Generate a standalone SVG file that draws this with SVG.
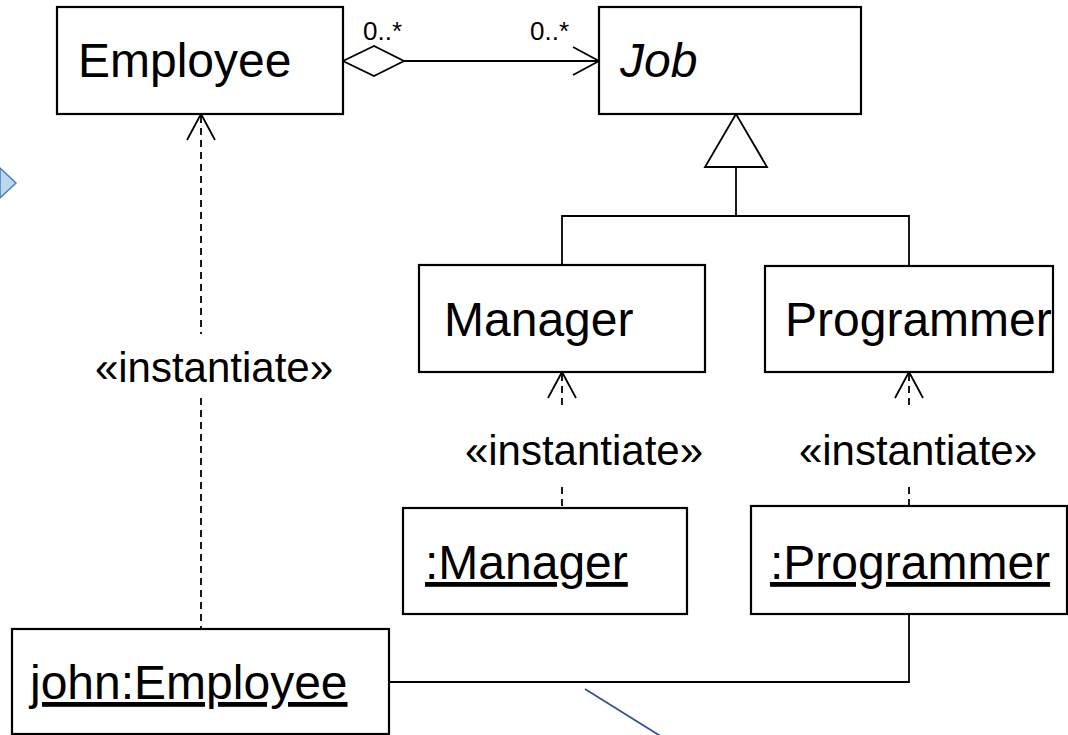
<svg xmlns="http://www.w3.org/2000/svg" width="1068" height="735" viewBox="0 0 1068 735">
<style>
.box{fill:#fff;stroke:#000;stroke-width:2.2}
.t{font-family:"Liberation Sans",Arial,sans-serif;font-size:48px;fill:#000}
.st{font-family:"Liberation Sans",Arial,sans-serif;font-size:42px;fill:#000}
.m{font-family:"Liberation Sans",Arial,sans-serif;font-size:26px;fill:#000}
.ln{fill:none;stroke:#000;stroke-width:1.8}
.dash{fill:none;stroke:#000;stroke-width:1.8;stroke-dasharray:7 5}
</style>
<rect width="1068" height="735" fill="#fff"/>
<g id="connectors">
  <polygon class="ln" points="343,61 374,46 404,61 374,76" fill="#fff"/>
  <line class="ln" x1="404" y1="61" x2="599" y2="61"/>
  <polyline class="ln" points="573,47 599,61 573,75"/>
  <text class="m" x="363" y="40">0..*</text>
  <text class="m" x="530" y="40">0..*</text>
  <polygon class="ln" points="736,114 705,167 767,167" fill="#fff"/>
  <line class="ln" x1="736" y1="167" x2="736" y2="216"/>
  <polyline class="ln" points="562,265 562,216 909,216 909,266"/>
  <line class="dash" x1="201" y1="116" x2="201" y2="334"/>
  <line class="dash" x1="201" y1="398" x2="201" y2="629"/>
  <polyline class="ln" points="187,140 201,114 215,140"/>
  <text class="st" x="214" y="382" text-anchor="middle">«instantiate»</text>
  <line class="dash" x1="562" y1="374" x2="562" y2="410"/>
  <line class="dash" x1="562" y1="487" x2="562" y2="508"/>
  <polyline class="ln" points="548,398 562,372 576,398"/>
  <text class="st" x="584" y="465" text-anchor="middle">«instantiate»</text>
  <line class="dash" x1="909" y1="374" x2="909" y2="410"/>
  <line class="dash" x1="909" y1="487" x2="909" y2="506"/>
  <polyline class="ln" points="895,398 909,372 923,398"/>
  <text class="st" x="918" y="465" text-anchor="middle">«instantiate»</text>
  <polyline class="ln" points="909,614 909,682 389,682"/>
</g>
<g id="Employee"><rect class="box" x="57" y="7" width="286" height="107"/><text class="t" x="78" y="77">Employee</text></g>
<g id="Job"><rect class="box" x="599" y="7" width="262" height="107"/><text class="t" x="620" y="77" font-style="italic">Job</text></g>
<g id="Manager"><rect class="box" x="419" y="265" width="286" height="107"/><text class="t" x="444" y="336">Manager</text></g>
<g id="Programmer"><rect class="box" x="765" y="266" width="288" height="106"/><text class="t" x="785" y="336">Programmer</text></g>
<g id="ManagerObj"><rect class="box" x="403" y="508" width="284" height="106"/><text class="t" x="425" y="579" text-decoration="underline">:Manager</text></g>
<g id="ProgrammerObj"><rect class="box" x="751" y="506" width="316" height="108"/><text class="t" x="770" y="579" text-decoration="underline">:Programmer</text></g>
<g id="john"><rect class="box" x="12" y="629" width="377" height="105"/><text class="t" x="30" y="699" text-decoration="underline">john:Employee</text></g>
<g id="decor">
  <polygon points="0,168 16,183 0,198" fill="#bdd7ee" stroke="#4a7ebb" stroke-width="1.5"/>
  <line x1="585" y1="689" x2="662" y2="737" stroke="#2f5597" stroke-width="1.8"/>
</g>
</svg>
